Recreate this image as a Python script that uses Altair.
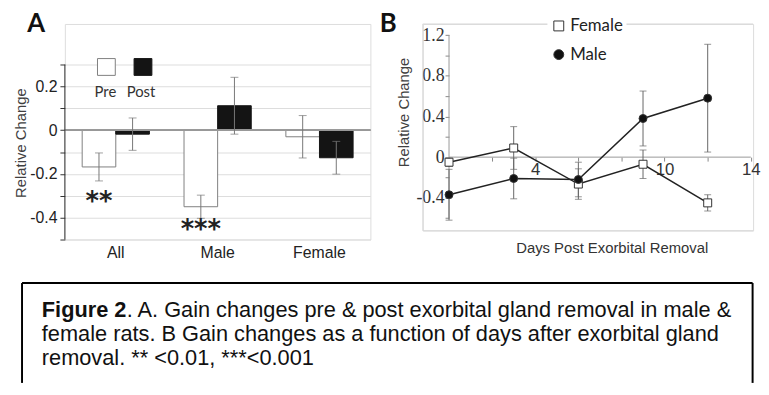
import altair as alt
import pandas as pd

# ---------------- Panel A data ----------------
groups = ["All", "Male", "Female"]
phases = ["Pre", "Post"]
pre_vals = [-0.168, -0.35, -0.03]
pre_errs = [0.064, 0.053, 0.097]
post_vals = [-0.018, 0.112, -0.126]
post_errs = [0.074, 0.13, 0.075]
a_ticks = [-0.5, -0.4, -0.3, -0.2, -0.1, 0, 0.1, 0.2, 0.3]

# ---------------- Panel B data ----------------
days = [0, 3, 6, 9, 12]
series = ["Female", "Male"]
female_vals = [-0.05, 0.09, -0.265, -0.07, -0.45]
female_errs = [0.04, 0.21, 0.15, 0.14, 0.08]
male_vals = [-0.37, -0.21, -0.22, 0.38, 0.58]
male_errs = [0.25, 0.2, 0.17, 0.27, 0.53]
b_yticks = [-0.6, -0.4, -0.2, 0, 0.2, 0.4, 0.6, 0.8, 1.0, 1.2]
b_xticks = [0, 2, 4, 6, 8, 10, 12, 14]

# ---------------- Caption ----------------
caption_bold = "Figure 2"
caption_rest = ".  A. Gain changes pre & post exorbital gland removal in male &"
caption_line2 = "female rats. B Gain changes as a function of days after exorbital gland"
caption_line3 = "removal. ** <0.01, ***<0.001"

FONT = "Lato"
CAP_FONT = "Liberation Sans"
CAP_SIZE = 22

rowsA = []
for i, g in enumerate(groups):
    rowsA.append(dict(group=g, phase="Pre", value=pre_vals[i], err=pre_errs[i]))
    rowsA.append(dict(group=g, phase="Post", value=post_vals[i], err=post_errs[i]))
dfA = pd.DataFrame(rowsA)
dfA["lo"] = dfA["value"] - dfA["err"]
dfA["hi"] = dfA["value"] + dfA["err"]

rowsB = []
for s, vals, errs in [("Female", female_vals, female_errs), ("Male", male_vals, male_errs)]:
    for d, v, e in zip(days, vals, errs):
        rowsB.append(dict(day=d, series=s, value=v, err=e, lo=v - e, hi=v + e))
dfB = pd.DataFrame(rowsB)

one = pd.DataFrame({"k": [0]})

# ================= Panel A =================
WA, HA = 309, 218
ysA = alt.Scale(domain=[-0.5, 0.486], nice=False, zero=False)
yaxA = alt.Axis(values=a_ticks, domain=False, tickSize=5, tickColor="#333",
                labelExpr="abs(round(datum.value*10)) % 2 == 0 ? toString(datum.value) : ''",
                labelFontSize=16, labelPadding=3, labelColor="#222",
                title="Relative Change", titleFontSize=15, titleFontWeight="normal",
                titleColor="#404040", titleX=-45, titleY=120, titleAngle=-90,
                titleAlign="center", titleBaseline="middle")
xsA = alt.Scale(domain=groups, paddingInner=0.34, paddingOuter=0.17)
xaxA = alt.Axis(title=None, labelAngle=0, domain=False, ticks=False, labelPadding=5,
                labelFontSize=16, labelColor="#222")
xA = alt.X("group:N", sort=groups, scale=xsA, axis=xaxA)
xoA = alt.XOffset("phase:N", sort=phases, scale=alt.Scale(domain=phases, paddingInner=0, paddingOuter=0))

baseA = alt.Chart(dfA)
bars = baseA.mark_bar(strokeWidth=1).encode(
    x=xA, xOffset=xoA,
    y=alt.Y("value:Q", scale=ysA, axis=yaxA, stack=None),
    fill=alt.Fill("phase:N", scale=alt.Scale(domain=phases, range=["white", "#141414"]), legend=None),
    stroke=alt.Stroke("phase:N", scale=alt.Scale(domain=phases, range=["#7f7f7f", "#141414"]), legend=None),
)
zero_line = baseA.mark_rule(color="#999", strokeWidth=1.2).encode(
    y=alt.YDatum(0, scale=ysA, axis=yaxA), x=alt.value(0), x2=alt.value(WA))
err_rule = baseA.mark_rule(color="#777", strokeWidth=1).encode(
    x=xA, xOffset=xoA, y=alt.Y("lo:Q", scale=ysA, axis=yaxA), y2="hi:Q")
cap_lo = baseA.mark_tick(color="#777", orient="horizontal", size=8, thickness=1).encode(
    x=xA, xOffset=xoA, y=alt.Y("lo:Q", scale=ysA, axis=yaxA))
cap_hi = baseA.mark_tick(color="#777", orient="horizontal", size=8, thickness=1).encode(
    x=xA, xOffset=xoA, y=alt.Y("hi:Q", scale=ysA, axis=yaxA))
axis_line_A = alt.Chart(one).mark_rule(color="#333", strokeWidth=1).encode(
    x=alt.value(0), y=alt.YDatum(-0.5, scale=ysA, axis=yaxA), y2=alt.datum(0.3))

stars2 = baseA.transform_filter((alt.datum.group == "All") & (alt.datum.phase == "Pre")).mark_text(
    font="DejaVu Sans", fontWeight="bold", fontSize=26, dy=21, color="#222").encode(
    x=xA, xOffset=xoA, y=alt.Y("lo:Q", scale=ysA, axis=yaxA), text=alt.value("**"))
stars3 = baseA.transform_filter((alt.datum.group == "Male") & (alt.datum.phase == "Pre")).mark_text(
    font="DejaVu Sans", fontWeight="bold", fontSize=26, dy=12, color="#222").encode(
    x=xA, xOffset=xoA, y=alt.Y("lo:Q", scale=ysA, axis=yaxA), text=alt.value("***"))


def ptext(txt, x, y, **kw):
    return alt.Chart(one).mark_text(**kw).encode(x=alt.value(x), y=alt.value(y), text=alt.value(txt))


def prect(x, x2, y, y2, **kw):
    return alt.Chart(one).mark_rect(**kw).encode(x=alt.value(x), x2=alt.value(x2), y=alt.value(y), y2=alt.value(y2))


def prule(x, x2, y, y2, **kw):
    return alt.Chart(one).mark_rule(**kw).encode(x=alt.value(x), x2=alt.value(x2), y=alt.value(y), y2=alt.value(y2))


leg_pre = prect(33, 51, 35, 52, fill="white", stroke="#7f7f7f", strokeWidth=1)
leg_post = prect(70, 88, 35, 52, fill="#141414", stroke="#141414", strokeWidth=1)
leg_pre_t = ptext("Pre", 41, 69, font=FONT, fontSize=15, color="#333", baseline="middle")
leg_post_t = ptext("Post", 77, 69, font=FONT, fontSize=15, color="#333", baseline="middle")
label_A = ptext("A", -29, 0, font=FONT, fontSize=26, fontWeight="bold", color="#111", baseline="middle")

# caption (positioned relative to panel A's plot origin)
CX0 = 20.7 - 64
CX1 = 759.5 - 64
CY0 = 284 - 22
CY1 = 385 - 22
cap_top = prule(CX0, CX1, CY0, CY0, color="black", strokeWidth=2)
cap_left = prule(CX0, CX0, CY0, CY1, color="black", strokeWidth=2)
cap_right = prule(CX1, CX1, CY0, CY1, color="black", strokeWidth=2)
cap_b = ptext(caption_bold, 40.7 - 64, 318.3 - 22, font=CAP_FONT, fontSize=CAP_SIZE, fontWeight="bold",
              color="#111", align="left", baseline="alphabetic")
cap_r = ptext(caption_rest, 126.5 - 64, 318.3 - 22, font=CAP_FONT, fontSize=CAP_SIZE,
              color="#111", align="left", baseline="alphabetic")
cap_2 = ptext(caption_line2, 40.7 - 64, 342.8 - 22, font=CAP_FONT, fontSize=CAP_SIZE,
              color="#111", align="left", baseline="alphabetic")
cap_3 = ptext(caption_line3, 40.7 - 64, 367.3 - 22, font=CAP_FONT, fontSize=CAP_SIZE,
              color="#111", align="left", baseline="alphabetic")

panelA = alt.layer(
    bars, zero_line, err_rule, cap_lo, cap_hi, axis_line_A, stars2, stars3,
    leg_pre, leg_post, leg_pre_t, leg_post_t, label_A,
    cap_top, cap_left, cap_right, cap_b, cap_r, cap_2, cap_3,
).properties(width=WA, height=HA)

# ================= Panel B =================
SPACING = 53
WB, HB = 334, 209
xsB = alt.Scale(domain=[-1.216, 14.106], nice=False, zero=False)
ysB = alt.Scale(domain=[-0.723, 1.310], nice=False, zero=False)
xaxB = alt.Axis(values=b_xticks, offset=-74.3, domain=False, tickSize=4, tickColor="#888",
                labelExpr="indexof([4, 10, 14], datum.value) >= 0 ? toString(datum.value) : ''",
                labelFlush=True, labelFlushOffset=3,
                labelFontSize=17, labelPadding=1, labelColor="#333",
                title="Days Post Exorbital Removal", titleFontSize=15, titleFontWeight="normal",
                titleColor="#333", titleX=191, titleY=91.3, titleAlign="center",
                titleBaseline="middle")
yaxB = alt.Axis(values=b_yticks, offset=-26.5, domain=False, tickSize=4, tickColor="#888",
                labelExpr="abs(round(datum.value*10)) % 4 == 0 ? toString(datum.value) : ''",
                labelFont="Liberation Serif", labelFontSize=18, labelPadding=1, labelColor="#333",
                title="Relative Change", titleFontSize=15, titleFontWeight="normal",
                titleColor="#404040", titleX=-45.5, titleY=89, titleAngle=-90,
                titleAlign="center", titleBaseline="middle")
xB = alt.X("day:Q", scale=xsB, axis=xaxB)

baseB = alt.Chart(dfB)
frame_top = prule(0, WB, 0, 0, color="#d9d9d9", strokeWidth=1)
frame_bot = prule(0, WB, HB, HB, color="#d9d9d9", strokeWidth=1)
frame_left = prule(0, 0, 0, HB, color="#d9d9d9", strokeWidth=1)
x_line = alt.Chart(one).mark_rule(color="#999", strokeWidth=1).encode(
    x=alt.XDatum(0, scale=xsB, axis=xaxB), x2=alt.datum(14),
    y=alt.YDatum(0, scale=ysB, axis=yaxB))
y_line = alt.Chart(one).mark_rule(color="#999", strokeWidth=1).encode(
    x=alt.XDatum(0, scale=xsB, axis=xaxB),
    y=alt.YDatum(-0.6, scale=ysB, axis=yaxB), y2=alt.datum(1.2))
lines = baseB.mark_line(color="#222", strokeWidth=1.5).encode(
    x=xB, y=alt.Y("value:Q", scale=ysB, axis=yaxB), detail="series:N")
err_b = baseB.mark_rule(color="#666", strokeWidth=1).encode(
    x=xB, y=alt.Y("lo:Q", scale=ysB, axis=yaxB), y2="hi:Q")
capb_lo = baseB.mark_tick(color="#666", orient="horizontal", size=7, thickness=1).encode(
    x=xB, y=alt.Y("lo:Q", scale=ysB, axis=yaxB))
capb_hi = baseB.mark_tick(color="#666", orient="horizontal", size=7, thickness=1).encode(
    x=xB, y=alt.Y("hi:Q", scale=ysB, axis=yaxB))
# legend positions are relative to the first panel's plot origin (legends live at top level)
legB = alt.Legend(title=None, orient="none", legendX=126 + WA + SPACING, legendY=-9.5, fillColor="white",
                  padding=3, labelFont=FONT, labelFontSize=17, labelColor="#222",
                  symbolSize=100, symbolStrokeColor="#333", symbolStrokeWidth=1,
                  rowPadding=11, labelOffset=3)
points = baseB.mark_point(filled=True, opacity=1, size=65, strokeWidth=1, stroke="#333").encode(
    x=xB, y=alt.Y("value:Q", scale=ysB, axis=yaxB),
    shape=alt.Shape("series:N", scale=alt.Scale(domain=series, range=["square", "circle"]), legend=legB),
    color=alt.Color("series:N", scale=alt.Scale(domain=series, range=["white", "#111"]), legend=legB),
)
label_B = ptext("B", -35, 0, font=FONT, fontSize=26, fontWeight="bold", color="#111", baseline="middle")

panelB = alt.layer(
    frame_top, frame_bot, frame_left, x_line, y_line, lines, err_b, capb_lo, capb_hi, points, label_B
).properties(width=WB, height=HB)

chart = alt.hconcat(panelA, panelB, spacing=SPACING, bounds="flush").properties(
    padding={"left": 4.5, "top": 0, "right": 0, "bottom": 0}
).configure_view(stroke=None).configure_axis(
    labelFont=FONT, titleFont=FONT, grid=False
).configure(background="white")

chart.save("out.html", embed_options={"renderer": "svg", "actions": False})
